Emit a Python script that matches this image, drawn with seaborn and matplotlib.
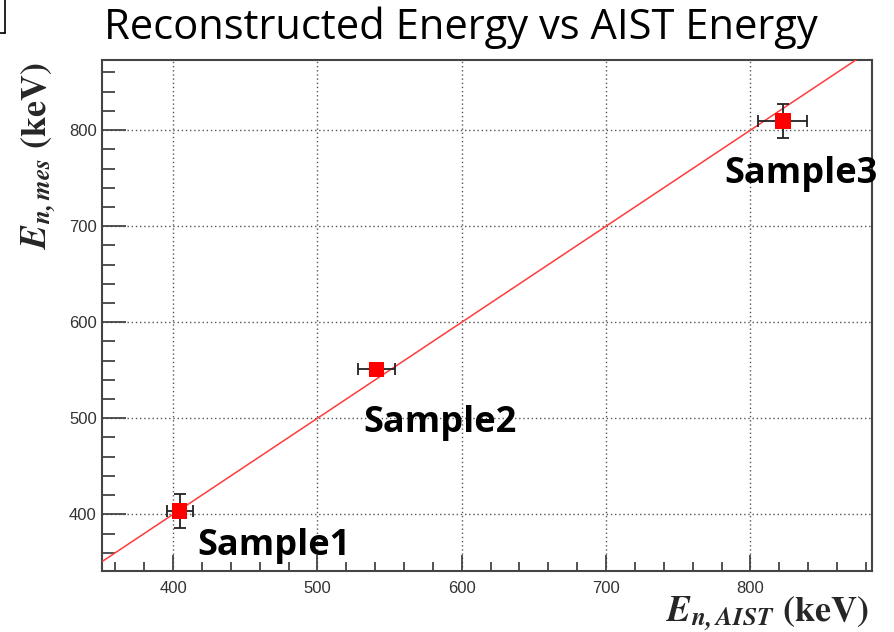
import matplotlib
matplotlib.use("Agg")
import matplotlib.pyplot as plt
from matplotlib.lines import Line2D
from matplotlib.ticker import MultipleLocator
import numpy as np
import pandas as pd
import seaborn as sns

# Measured samples: AIST reference energy vs reconstructed energy (keV)
samples = ["Sample1", "Sample2", "Sample3"]
e_aist = [404.5, 541.0, 822.5]
e_aist_err = [9.0, 13.0, 17.0]
e_mes = [403.5, 551.0, 809.5]
e_mes_err = [17.5, 3.0, 18.0]

# Linear fit E_mes = slope * E_aist + intercept
fit_slope = 1.0
fit_intercept = 0.0

# Axis ranges and label anchor points (data coordinates)
x_range = [351.0, 884.0]
y_range = [341.0, 873.0]
label_x = [416.5, 531.5, 782.0]
label_y = [357.5, 485.5, 745.0]

sns.set_style("white")
plt.rcParams["mathtext.fontset"] = "stix"
plt.rcParams["font.family"] = ["Liberation Sans", "DejaVu Sans"]

fig = plt.figure(figsize=(8.95, 6.32), dpi=100)
ax = fig.add_axes([0.1143, 0.0965, 0.8597, 0.8086])

df = pd.DataFrame({"sample": samples, "aist": e_aist, "mes": e_mes,
                   "aist_err": e_aist_err, "mes_err": e_mes_err})

# fit line across the full x range
fit_x = np.array(x_range)
fit_df = pd.DataFrame({"x": fit_x, "y": fit_slope * fit_x + fit_intercept})
sns.lineplot(data=fit_df, x="x", y="y", ax=ax, color="#ff3b3b", lw=1.1, zorder=3)

ax.errorbar(df["aist"], df["mes"], xerr=df["aist_err"], yerr=df["mes_err"],
            fmt="none", ecolor="#222222", elinewidth=1.3, capsize=4, capthick=1.3,
            zorder=4)
sns.scatterplot(data=df, x="aist", y="mes", ax=ax, marker="s", s=120,
                color="#ff0000", edgecolor="none", zorder=5)

for name, lx, ly in zip(samples, label_x, label_y):
    ax.text(lx, ly, name, fontsize=26, fontweight="bold", family="Open Sans",
            ha="left", va="baseline", color="black", zorder=6)

ax.set_xlim(*x_range)
ax.set_ylim(*y_range)
ax.xaxis.set_major_locator(MultipleLocator(100))
ax.xaxis.set_minor_locator(MultipleLocator(20))
ax.yaxis.set_major_locator(MultipleLocator(100))
ax.yaxis.set_minor_locator(MultipleLocator(20))

ax.grid(True, which="major", linestyle=(0, (1, 2)), color="#555555", lw=1.0)
ax.tick_params(axis="x", which="major", direction="in", length=11.5, width=1.3,
               color="#444444", labelsize=12, labelcolor="#333333", pad=7,
               bottom=True, top=False)
ax.tick_params(axis="x", which="minor", direction="in", length=6.5, width=1.3,
               color="#444444", bottom=True, top=False)
ax.tick_params(axis="y", which="major", direction="in", length=17, width=1.3,
               color="#444444", labelsize=12, labelcolor="#333333", pad=4,
               left=True, right=False)
ax.tick_params(axis="y", which="minor", direction="in", length=9.5, width=1.3,
               color="#444444", left=True, right=False)
for sp in ax.spines.values():
    sp.set_color("#444444")
    sp.set_linewidth(1.5)

ax.set_xlabel("")
ax.set_ylabel("")
ax.text(0.996, -0.084, r"$\mathbfit{E}_{\mathbfit{n,AIST}}\ \mathbf{(keV)}$",
        transform=ax.transAxes, ha="right", va="center", fontsize=26)
ax.text(-0.082, 0.814, r"$\mathbfit{E}_{\mathbfit{n,mes}}\ \mathbf{(keV)}$",
        transform=ax.transAxes, ha="center", va="center", fontsize=26,
        rotation=90)

fig.text(0.515, 1 - 39 / 632, "Reconstructed Energy vs AIST Energy",
         ha="center", va="baseline", fontsize=30, family="Open Sans", color="black")

# frame corner at the top-left of the canvas
fig.add_artist(Line2D([5 / 895, 5 / 895], [1.0, 1 - 33 / 632],
                      transform=fig.transFigure, color="black", lw=1.2))
fig.add_artist(Line2D([0.0, 5 / 895], [1 - 33 / 632, 1 - 33 / 632],
                      transform=fig.transFigure, color="black", lw=1.2))

fig.savefig("out.png", dpi=100)
